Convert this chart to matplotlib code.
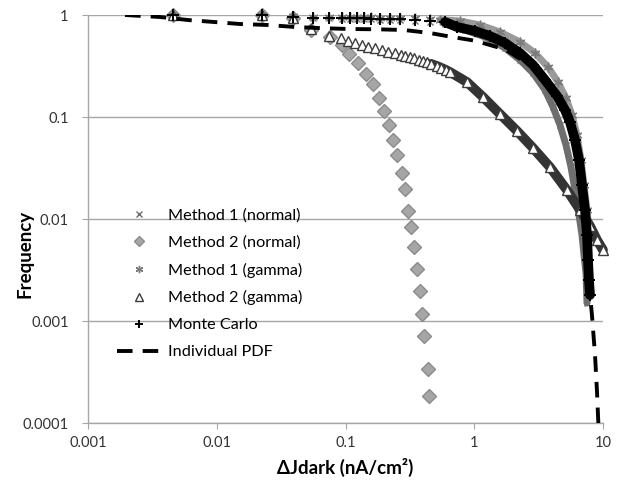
import numpy as np
import matplotlib.pyplot as plt
from matplotlib.ticker import FixedLocator, FixedFormatter, NullLocator

plt.rcParams['font.family'] = ['Lato', 'DejaVu Sans']

# Axis ticks
x_ticks = [0.001, 0.01, 0.1, 1, 10]
x_tick_labels = ["0.001", "0.01", "0.1", "1", "10"]
y_ticks = [0.0001, 0.001, 0.01, 0.1, 1]
y_tick_labels = ["0.0001", "0.001", "0.01", "0.1", "1"]

# Method 1 (normal)
m1n_x = [0.00457, 0.0225, 0.0391, 0.0559, 0.0744, 0.0939, 0.1084, 0.1229, 0.1392,
         0.1578, 0.1854, 0.2216, 0.2651, 0.3466, 0.4532, 0.5926, 0.848, 1.212, 1.733,
         2.266, 2.860, 3.544, 4.09, 4.634, 5.160, 5.643, 6.062, 6.510, 6.868, 7.117,
         7.379, 7.510]
m1n_y = [1.0, 1.0, 0.95, 0.93, 0.93, 0.92, 0.92, 0.92, 0.91,
         0.91, 0.90, 0.90, 0.89, 0.87, 0.85, 0.816, 0.713, 0.609, 0.475,
         0.362, 0.270, 0.184, 0.1253, 0.0835, 0.0531, 0.0323, 0.01925, 0.01094, 0.00697, 0.00444,
         0.00296, 0.0015]

# Method 2 (normal)
m2n_x = [0.00457, 0.0225, 0.0391, 0.054, 0.0759, 0.0933, 0.107, 0.126, 0.144, 0.164,
         0.183, 0.200, 0.219, 0.235, 0.253, 0.273, 0.290, 0.307, 0.323, 0.340,
         0.361, 0.379, 0.395, 0.407, 0.435, 0.448]
m2n_y = [1.0, 1.0, 0.93, 0.72, 0.612, 0.508, 0.415, 0.336, 0.262, 0.209,
         0.153, 0.1146, 0.0835, 0.0595, 0.0424, 0.0284, 0.0196, 0.0121, 0.0083, 0.00528,
         0.00321, 0.00198, 0.00117, 0.000718, 0.000338, 0.000185]

# Method 1 (gamma)
m1g_x = [0.00457, 0.0225, 0.0391, 0.0559, 0.0744, 0.0939, 0.1084, 0.1229, 0.1392,
         0.1578, 0.1854, 0.2216, 0.2651, 0.3466, 0.4532, 0.542, 0.775, 1.108, 1.585,
         2.266, 2.963, 3.740, 4.472, 5.160, 5.743, 6.283, 6.746, 7.117, 7.510, 7.785]
m1g_y = [1.0, 1.0, 0.97, 0.96, 0.96, 0.96, 0.95, 0.95, 0.95,
         0.95, 0.94, 0.94, 0.94, 0.935, 0.92, 0.90, 0.873, 0.798, 0.681,
         0.544, 0.424, 0.309, 0.220, 0.1535, 0.1046, 0.0666, 0.0379, 0.0215, 0.0123, 0.0075]

# Method 2 (gamma)
m2g_x = [0.00457, 0.0225, 0.0391, 0.0540, 0.0744, 0.0923, 0.1046, 0.1185, 0.1343,
         0.1495, 0.1695, 0.1921, 0.2138, 0.2424, 0.270, 0.290, 0.317, 0.340, 0.370,
         0.400, 0.430, 0.460, 0.514, 0.550, 0.600, 0.648, 0.878, 1.17, 1.585, 2.15,
         2.86, 3.87, 5.25, 6.62, 7.93, 8.98, 10.0]
m2g_y = [1.0, 1.0, 0.93, 0.729, 0.622, 0.595, 0.556, 0.532, 0.508,
         0.486, 0.475, 0.454, 0.434, 0.424, 0.41, 0.40, 0.388, 0.378, 0.366,
         0.354, 0.343, 0.332, 0.316, 0.305, 0.29, 0.276, 0.220, 0.157, 0.107, 0.0729,
         0.0497, 0.0323, 0.0192, 0.0123, 0.00854, 0.00623, 0.00497]

# Monte Carlo
mc_x = [0.00457, 0.0225, 0.0391, 0.0559, 0.0744, 0.0939, 0.1084, 0.1229, 0.1392,
        0.1578, 0.1854, 0.2216, 0.2651, 0.3466, 0.4532, 0.5926, 0.7345, 1.013, 1.325,
        1.733, 2.266, 2.860, 3.544, 4.392, 5.069, 5.542, 6.062, 6.510, 6.868, 7.246,
        7.510, 7.646, 7.785, 7.925]
mc_y = [1.0, 1.0, 0.956, 0.935, 0.935, 0.935, 0.935, 0.935, 0.935,
        0.914, 0.914, 0.914, 0.914, 0.893, 0.873, 0.854, 0.763, 0.697, 0.622,
        0.532, 0.424, 0.324, 0.231, 0.161, 0.117, 0.0893, 0.0595, 0.0379, 0.0215, 0.0123,
        0.0070, 0.0040, 0.0025, 0.0018]

# Individual PDF
pdf_x = [0.00194, 0.00362, 0.00598, 0.00952, 0.01516, 0.0250, 0.0405, 0.0693, 0.1084,
         0.1788, 0.2847, 0.4531, 0.672, 1.013, 1.733, 2.86, 4.39, 5.54, 6.51, 7.25,
         7.65, 7.93, 8.21, 8.67, 8.98, 9.2]
pdf_y = [1.0, 0.956, 0.893, 0.854, 0.816, 0.798, 0.763, 0.741, 0.729,
         0.724, 0.713, 0.666, 0.609, 0.56, 0.46, 0.31, 0.165, 0.092, 0.040, 0.0125,
         0.0042, 0.0018, 0.00114, 0.000464, 0.000204, 0.0001]

fig = plt.figure(figsize=(6.23, 4.84), dpi=100)
ax = fig.add_axes([0.1413, 0.126, 0.8266, 0.843])
ax.set_xscale("log")
ax.set_yscale("log")
ax.set_xlim(0.001, 10)
ax.set_ylim(0.0001, 1)


def band(xs, ys, start, color, width, z):
    # dense stretch of a series: markers overlap into a solid band
    xs = np.asarray(xs)
    ys = np.asarray(ys)
    keep = xs >= start
    ax.plot(xs[keep], ys[keep], "-", color=color, lw=width,
            solid_capstyle="round", zorder=z, clip_on=False)


band(m1n_x, m1n_y, 0.55, "#6e6e6e", 5, 2)
ax.plot(m1n_x, m1n_y, ls="none", marker="x", ms=5, mew=1, color="#6e6e6e",
        label="Method 1 (normal)", zorder=2.1, clip_on=False)

ax.plot(m2n_x, m2n_y, ls="none", marker="D", ms=6.8, mfc="#a6a6a6", mec="#8c8c8c",
        mew=1, label="Method 2 (normal)", zorder=3, clip_on=False)

band(m1g_x, m1g_y, 0.5, "#9a9a9a", 5, 4)
ax.plot(m1g_x, m1g_y, ls="none", marker=(6, 2, 0), ms=7, mew=1, color="#7a7a7a",
        label="Method 1 (gamma)", zorder=4.1, clip_on=False)

band(m2g_x, m2g_y, 0.45, "#333333", 7, 5)
ax.plot(m2g_x, m2g_y, ls="none", marker="^", ms=7, mfc="white", mec="#3c3c3c",
        mew=1, label="Method 2 (gamma)", zorder=5.1, clip_on=False)

band(mc_x, mc_y, 0.55, "black", 7, 6)
ax.plot(mc_x, mc_y, ls="none", marker="+", ms=8, mew=1.4, color="black",
        label="Monte Carlo", zorder=6.1, clip_on=False)

ax.plot(pdf_x, pdf_y, ls=(0, (4, 2.6)), lw=2.8, color="black",
        label="Individual PDF", zorder=7)

# Axes styling
ax.xaxis.set_major_locator(FixedLocator(x_ticks))
ax.xaxis.set_major_formatter(FixedFormatter(x_tick_labels))
ax.yaxis.set_major_locator(FixedLocator(y_ticks))
ax.yaxis.set_major_formatter(FixedFormatter(y_tick_labels))
ax.xaxis.set_minor_locator(NullLocator())
ax.yaxis.set_minor_locator(NullLocator())

ax.yaxis.grid(True, color="#a6a6a6", lw=1)
ax.set_axisbelow(True)
for side in ["top", "right"]:
    ax.spines[side].set_visible(False)
for side in ["left", "bottom"]:
    ax.spines[side].set_color("#a6a6a6")
    ax.spines[side].set_linewidth(1)
ax.tick_params(axis="both", direction="out", length=4, color="#a6a6a6",
               labelsize=10.5, labelcolor="#333333")
ax.tick_params(axis="y", pad=10)
ax.tick_params(axis="x", pad=5)

ax.set_xlabel("ΔJdark (nA/cm²)", fontsize=13.5, fontweight="bold", labelpad=6)
ax.set_ylabel("Frequency", fontsize=13.5, fontweight="bold")
ax.yaxis.set_label_coords(-0.106, 0.415)

ax.legend(loc="upper left", bbox_to_anchor=(0.044, 0.542), frameon=False,
          fontsize=11.7, handlelength=2.65, handletextpad=0.5, labelspacing=0.78,
          markerscale=0.75, borderaxespad=0)

fig.savefig("out.png", dpi=100)
